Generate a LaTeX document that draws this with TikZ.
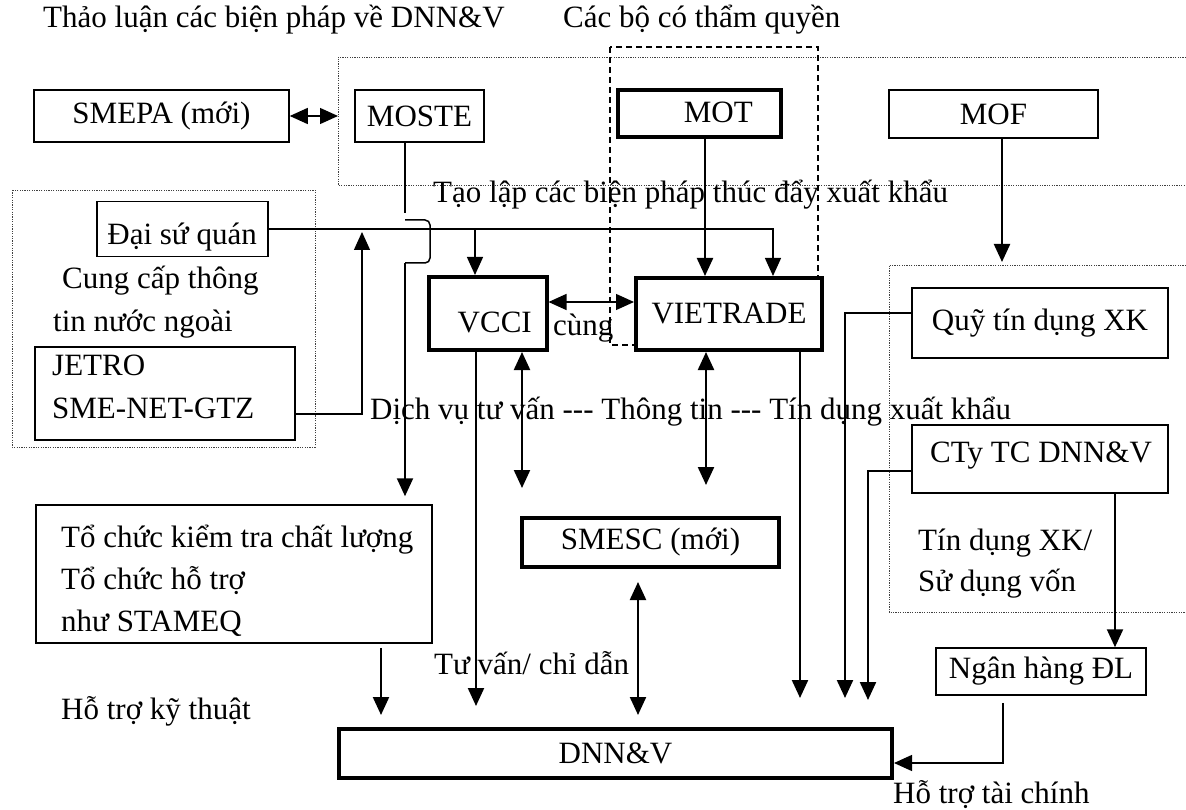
\documentclass[tikz,border=0pt]{standalone}
\usepackage{fontspec}
\setmainfont{Liberation Serif}
\usetikzlibrary{arrows.meta}
\newcommand\hy{\mbox{-}}
\begin{document}
\begin{tikzpicture}[x=1pt,y=-1pt,
  every node/.style={font=\fontsize{31}{43}\selectfont, inner sep=0pt},
  box/.style={draw, fill=white, line width=1.5pt},
  thickbox/.style={draw, fill=white, line width=4pt},
  txt/.style={anchor=base west},
  txtr/.style={anchor=base east},
  tip/.tip={Triangle[length=18pt,width=16pt]},
  arr/.style={line width=2.2pt, -tip},
  arrthin/.style={line width=1.3pt, -tip},
  darr/.style={line width=2.2pt, tip-tip},
  darrthin/.style={line width=1.3pt, tip-tip},
  thinline/.style={line width=1.5pt},
  dotbox/.style={line width=0.9pt, dash pattern=on 1.2pt off 1.2pt, black!75},
  dashbox/.style={line width=2.2pt, dash pattern=on 6pt off 4pt}]

\path[fill=white] (0,0) rectangle (1186,810);
\useasboundingbox (0,0) rectangle (1186,810);

% group outlines
\draw[dotbox] (1186,57) -- (338,57) -- (338,185) -- (1186,185);
\draw[dotbox] (12,190) rectangle (315,447);
\draw[dotbox] (1186,265) -- (889,265) -- (889,612) -- (1186,612);
\draw[dashbox] (610,47) rectangle (818,345);

% boxes
\node[box, minimum width=255pt, minimum height=52pt] (smepa) at (161.5,116) {SMEPA (mới)};
\node[box, minimum width=129pt, minimum height=52pt] (moste) at (419.5,116) {MOSTE};
\node[thickbox, minimum width=163pt, minimum height=47pt] (mot) at (699.5,113.5) {};
\node[box, minimum width=209pt, minimum height=48pt] (mof) at (993.5,114) {MOF};
\node[box, minimum width=171pt, minimum height=55pt] (dai) at (182.5,229) {};
\node[box, minimum width=260pt, minimum height=93pt] (jetro) at (165,393.5) {};
\node[thickbox, minimum width=118pt, minimum height=73pt] (vcci) at (487.5,313.5) {};
\node[thickbox, minimum width=186pt, minimum height=72pt] (vietrade) at (729,314) {VIETRADE};
\node[box, minimum width=256pt, minimum height=70pt] (quy) at (1040,323) {Quỹ tín dụng XK};
\node[box, minimum width=256pt, minimum height=68pt] (cty) at (1040,459) {};
\node[thickbox, minimum width=257pt, minimum height=49pt] (smesc) at (650.5,542.5) {SMESC (mới)};
\node[box, minimum width=396pt, minimum height=138pt] (tochuc) at (234,574) {};
\node[box, minimum width=210pt, minimum height=47pt] (ngan) at (1041,671.5) {Ngân hàng ĐL};
\node[thickbox, minimum width=553pt, minimum height=49pt] (dnnv) at (615.5,753.5) {DNN\&V};

% texts
\node[txt] (t1) at (43,28) {Thảo luận các biện pháp về DNN\&V};
\node[txt] (t2) at (563,28) {Các bộ có thẩm quyền};
\node[txtr] (motT) at (753,123) {MOT};
\node[txt] (taolap) at (433,203) {Tạo lập các biện pháp thúc đẩy xuất khẩu};
\node[txtr] (daiT) at (257,245) {Đại sứ quán};
\node[txt] (cc1) at (62,289) {Cung cấp thông};
\node[txt] (cc2) at (53,331) {tin nước ngoài};
\node[txt] (j1) at (52,375) {JETRO};
\node[txt] (j2) at (52,418) {SME-NET-GTZ};
\node[txtr] (vcciT) at (532,332) {VCCI};
\node[txt] (cung) at (553,335) {cùng};
\node[txt] (dv) at (370,419) {Dịch vụ tư vấn \hy\hy\hy{} Thông tin \hy\hy\hy{} Tín dụng xuất khẩu};
\node[txt] (ctyT) at (930,462) {CTy TC DNN\&V};
\node[txt] (tdxk) at (918,550) {Tín dụng XK/};
\node[txt] (sdv) at (918,591) {Sử dụng vốn};
\node[txt] (tc1) at (61,547) {Tổ chức kiểm tra chất lượng};
\node[txt] (tc2) at (61,589) {Tổ chức hỗ trợ};
\node[txt] (tc3) at (61,631) {như STAMEQ};
\node[txt] (tv) at (434,674) {Tư vấn/ chỉ dẫn};
\node[txt] (hkt) at (61,719) {Hỗ trợ kỹ thuật};
\node[txt] (htc) at (893,803) {Hỗ trợ tài chính};

% helper coordinates
\coordinate (xm) at (405,0);
\coordinate (hop0) at (405,213);
\coordinate (hopA) at (405,220);
\coordinate (hopB) at (430,263);
\coordinate (hopC) at (405,263);
\coordinate (xmt) at (705,0);
\coordinate (xmf) at (1002,0);
\coordinate (rgtop) at (1002,262);
\coordinate (xvc) at (475,0);
\coordinate (xvt) at (773,0);
\coordinate (xup) at (362,0);
\coordinate (yj) at (0,414);
\coordinate (ycv) at (0,302);
\coordinate (xvd) at (476,0);
\coordinate (xvs) at (522,0);
\coordinate (xts) at (706,0);
\coordinate (xsd) at (638,0);
\coordinate (xvtd) at (800,0);
\coordinate (xq) at (845,0);
\coordinate (yq) at (0,313);
\coordinate (xc) at (868,0);
\coordinate (yc) at (0,471);
\coordinate (xcn) at (1115,0);
\coordinate (xn) at (1003,0);
\coordinate (yn) at (0,763);
\coordinate (xtc) at (381,0);
\coordinate (dotL) at (338,116);

% connectors
\draw[darrthin] (smepa.east) -- (dotL);
\draw[line width=2.2pt] (xm |- moste.south) -- (hop0);
\draw[thinline, rounded corners=5pt] (hopA) -| (hopB) -- (hopC);
\draw[arr, shorten >=8pt] (hopC) -- (xm |- tochuc.north);
\draw[arrthin] (dai.east) -| (xvt |- vietrade.north);
\draw[arrthin] (xvc |- dai.east) -- (xvc |- vcci.north);
\draw[arrthin, shorten >=3pt] (jetro.east |- yj) -| (xup |- dai.east);
\draw[arr] (xmt |- mot.south) -- (xmt |- vietrade.north);
\draw[arr] (xmf |- mof.south) -- (rgtop);
\draw[darrthin] (vcci.east |- ycv) -- (vietrade.west |- ycv);
\draw[arr, shorten >=21pt] (xvd |- vcci.south) -- (xvd |- dnnv.north);
\draw[darr, shorten >=28pt] (xvs |- vcci.south) -- (xvs |- smesc.north);
\draw[darr, shorten >=31pt] (xts |- vietrade.south) -- (xts |- smesc.north);
\draw[darr, shorten <=13pt, shorten >=12pt] (xsd |- smesc.south) -- (xsd |- dnnv.north);
\draw[arr, shorten >=29pt] (xvtd |- vietrade.south) -- (xvtd |- dnnv.north);
\draw[arr, shorten >=29pt] (quy.west |- yq) -| (xq |- dnnv.north);
\draw[arr, shorten >=27pt] (cty.west |- yc) -| (xc |- dnnv.north);
\draw[arr] (xcn |- cty.south) -- (xcn |- ngan.north);
\draw[arrthin, shorten <=7pt] (xn |- ngan.south) -- (xn |- yn) -- (dnnv.east |- yn);
\draw[arr, shorten <=4pt, shorten >=12pt] (xtc |- tochuc.south) -- (xtc |- dnnv.north);
\end{tikzpicture}
\end{document}
